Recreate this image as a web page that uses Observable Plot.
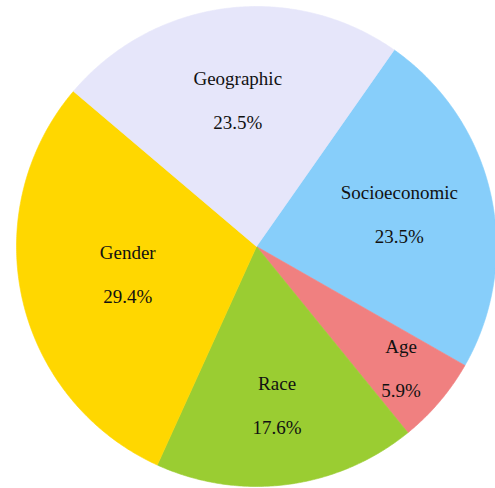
<!DOCTYPE html>
<html>
<head>
<meta charset="utf-8">
<script src="https://cdn.jsdelivr.net/npm/d3@7"></script>
<script src="https://cdn.jsdelivr.net/npm/@observablehq/plot@0.6"></script>
<style>
  html, body { margin: 0; padding: 0; background: #fff; }
  #chart { width: 495px; height: 488px; overflow: hidden; }
</style>
</head>
<body>
<div id="chart"></div>
<script>
// Data (clockwise from the start angle)
const labels = ["Socioeconomic", "Age", "Race", "Gender", "Geographic"];
const values = [4, 1, 3, 5, 4];
const colors = ["#87CEFA", "#F08080", "#9ACD32", "#FFD700", "#E6E6FA"];

// Layout
const W = 495, H = 488;
const R = 240;            // pie radius in px
const cx = 256, cy = 246; // pie centre in px
const startDeg = 35;      // clockwise from 12 o'clock
const serif = "Liberation Serif";

const total = d3.sum(values);
const rad = Math.PI / 180;

const slices = [];
const poly = [];
let a = startDeg;
labels.forEach((label, i) => {
  const span = values[i] / total * 360;
  const a0 = a, a1 = a + span;
  poly.push({label, x: 0, y: 0});
  const n = Math.max(2, Math.ceil(span / 0.5));
  for (let k = 0; k <= n; k++) {
    const t = (a0 + (a1 - a0) * k / n) * rad;
    poly.push({label, x: Math.sin(t), y: Math.cos(t)});
  }
  poly.push({label, x: 0, y: 0});
  const frac = values[i] / total;
  const mid = (a0 + a1) / 2 * rad;
  const r = 0.85 - 1.02 * frac;
  slices.push({
    label,
    pct: (frac * 100).toFixed(1) + "%",
    x: r * Math.sin(mid),
    y: r * Math.cos(mid)
  });
  a = a1;
});

const chart = Plot.plot({
  width: W,
  height: H,
  margin: 0,
  x: {domain: [-cx / R, (W - cx) / R], axis: null},
  y: {domain: [-(H - cy) / R, cy / R], axis: null},
  color: {domain: labels, range: colors},
  style: {background: "#fff"},
  marks: [
    Plot.line(poly, {x: "x", y: "y", z: "label", fill: "label", stroke: "label", strokeWidth: 0.6, curve: "linear"}),
    Plot.text(slices, {x: "x", y: "y", text: "label", dy: -22, fontSize: 19, fontFamily: serif, fill: "#111"}),
    Plot.text(slices, {x: "x", y: "y", text: "pct", dy: 22, fontSize: 19, fontFamily: serif, fill: "#111"})
  ]
});
document.getElementById("chart").appendChild(chart);
</script>
</body>
</html>
